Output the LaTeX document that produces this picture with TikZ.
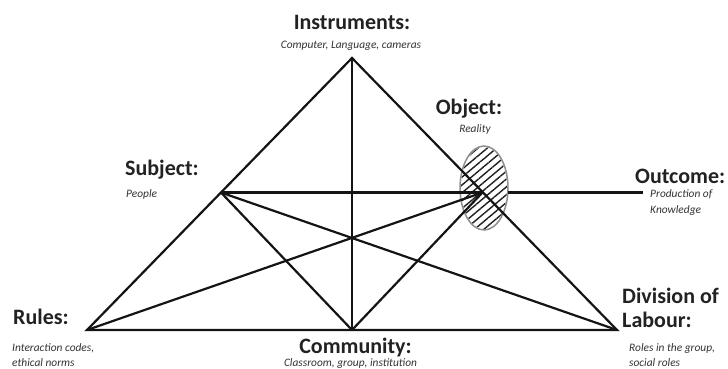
\documentclass[tikz,border=0pt]{standalone}
\usepackage{fontspec}
\setmainfont{Carlito}
\usetikzlibrary{patterns.meta,shapes.geometric}
\definecolor{headc}{HTML}{222222}
\definecolor{subc}{HTML}{333333}
\definecolor{ellc}{HTML}{8F8F8F}
\tikzset{
  edge/.style={line width=2.2pt, black!92},
  head/.style={inner sep=0pt, text=headc, font=\fontsize{22}{26}\selectfont\bfseries},
  sub/.style={inner sep=0pt, text=subc, font=\fontsize{11.4}{14}\selectfont\itshape},
}
\begin{document}
\begin{tikzpicture}[x=1pt,y=-1pt]
\useasboundingbox (0,0) rectangle (728,369);
% vertices
\coordinate (I) at (352,58);
\coordinate (R) at (87,330);
\coordinate (C) at (352,330);
\coordinate (D) at (617,330);
\coordinate (S) at (221,192.5);
\coordinate (O) at (482.5,192.5);
\coordinate (E) at (508,192.5);
\coordinate (X) at (643,192.5);
% object ellipse
\node[draw=ellc, line width=1.5pt, ellipse, fill=white, minimum width=48pt, minimum height=84pt, inner sep=0pt] (ell) at (484,188) {};
\fill[pattern={Lines[angle=40,distance=6pt,line width=1.4pt]}, pattern color=black!88] (484,188) ellipse [x radius=23, y radius=41];
% lines
\draw[edge] (I) -- (R) -- (D) -- cycle;
\draw[edge] (I) -- (C);
\draw[edge] (S) -- (O);
\draw[edge] (S) -- (C);
\draw[edge] (S) -- (D);
\draw[edge] (R) -- (O);
\draw[edge] (C) -- (O);
\draw[edge] (E) -- (X);
% labels
\node[head, anchor=base] (instr) at (352,30) {Instruments:};
\node[sub, anchor=base] (instrs) at (351,48.5) {Computer, Language, cameras};
\node[head, anchor=base] (obj) at (469,114) {Object:};
\node[sub, anchor=base] (objs) at (475,132) {Reality};
\node[head, anchor=base west] (subj) at (125,175) {Subject:};
\node[sub, anchor=base west] (subjs) at (126,197) {People};
\node[head, anchor=base west] (out) at (635,183) {Outcome:};
\node[sub, anchor=base west] (outs1) at (650,197) {Production of};
\node[sub, anchor=base west] (outs2) at (650,213) {Knowledge};
\node[head, anchor=base west] (rules) at (13,324) {Rules:};
\node[sub, anchor=base west] (rules1) at (12,351.5) {Interaction codes,};
\node[sub, anchor=base west] (rules2) at (12,366) {ethical norms};
\node[head, anchor=base] (comm) at (355.5,353) {Community:};
\node[sub, anchor=base] (comms) at (350.5,366.3) {Classroom, group, institution};
\node[head, anchor=base west] (div1) at (622,303) {Division of};
\node[head, anchor=base west] (div2) at (622,327) {Labour:};
\node[sub, anchor=base west] (divs1) at (629,351.5) {Roles in the group,};
\node[sub, anchor=base west] (divs2) at (629,366) {social roles};
\end{tikzpicture}
\end{document}
